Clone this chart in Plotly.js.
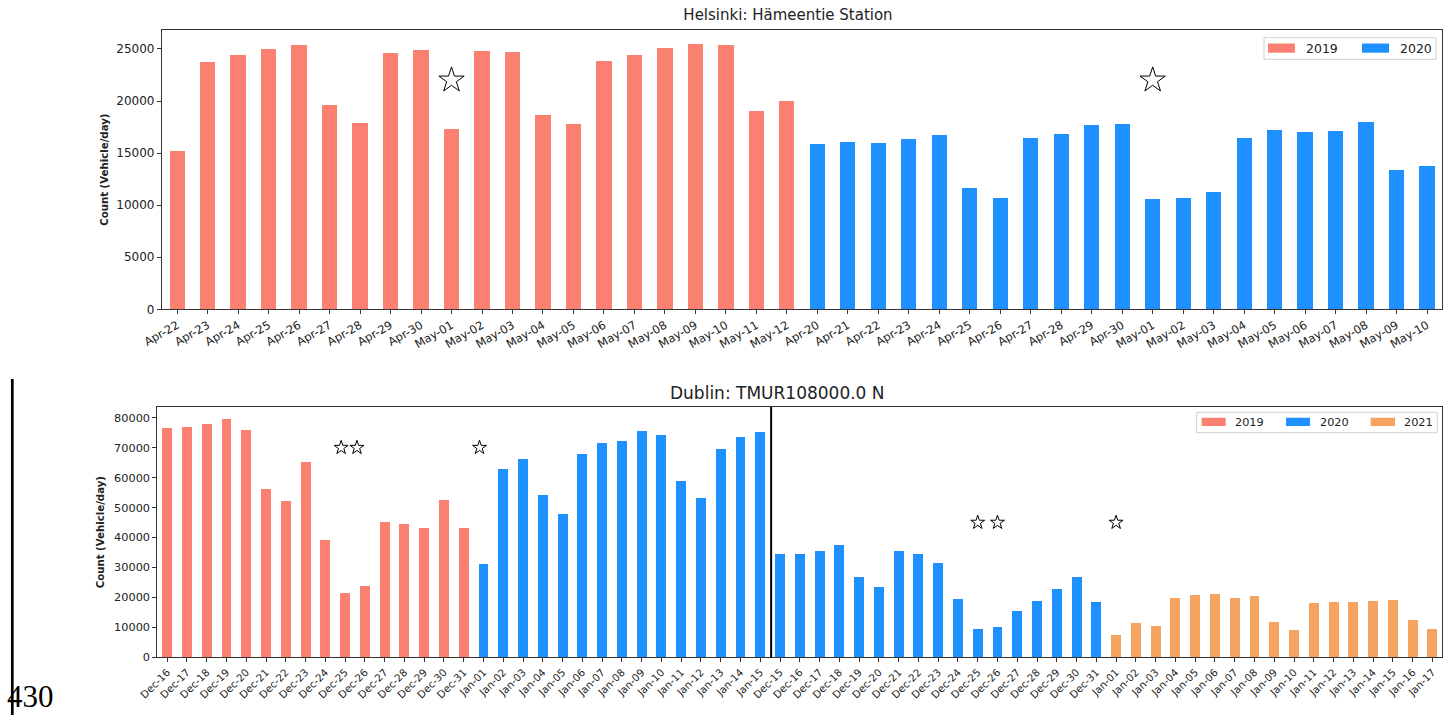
<!DOCTYPE html>
<html>
<head>
<meta charset="utf-8">
<script src="https://cdn.plot.ly/plotly-3.0.1.min.js"></script>
<style>html,body{margin:0;padding:0;background:#fff;}#chart{width:1450px;height:715px;}</style>
</head>
<body>
<div id="chart"></div>
<script>
// ---------- Helsinki data ----------
const helCats2019 = ['Apr-22','Apr-23','Apr-24','Apr-25','Apr-26','Apr-27','Apr-28','Apr-29','Apr-30','May-01','May-02','May-03','May-04','May-05','May-06','May-07','May-08','May-09','May-10','May-11','May-12'];
const helVals2019 = [15170,23750,24420,25030,25380,19590,17930,24580,24870,17320,24810,24710,18630,17800,23850,24390,25060,25450,25380,19050,19970];
const helCats2020 = ['Apr-20','Apr-21','Apr-22','Apr-23','Apr-24','Apr-25','Apr-26','Apr-27','Apr-28','Apr-29','Apr-30','May-01','May-02','May-03','May-04','May-05','May-06','May-07','May-08','May-09','May-10'];
const helVals2020 = [15910,16040,15950,16390,16740,11650,10720,16450,16810,17670,17830,10560,10720,11240,16450,17220,17060,17160,18020,13380,13730];
const helStarX = [9, 32];
const helStarY = [22000, 22000];

// ---------- Dublin data ----------
const dubCats2019 = ['Dec-16','Dec-17','Dec-18','Dec-19','Dec-20','Dec-21','Dec-22','Dec-23','Dec-24','Dec-25','Dec-26','Dec-27','Dec-28','Dec-29','Dec-30','Dec-31'];
const dubVals2019 = [76550,76880,77770,79550,75880,56080,52070,65200,39050,21470,23810,45170,44390,43170,52410,43060];
const dubCats2020 = ['Jan-01','Jan-02','Jan-03','Jan-04','Jan-05','Jan-06','Jan-07','Jan-08','Jan-09','Jan-10','Jan-11','Jan-12','Jan-13','Jan-14','Jan-15','Dec-15','Dec-16','Dec-17','Dec-18','Dec-19','Dec-20','Dec-21','Dec-22','Dec-23','Dec-24','Dec-25','Dec-26','Dec-27','Dec-28','Dec-29','Dec-30','Dec-31'];
const dubVals2020 = [31270,62750,66090,54300,47960,67870,71430,72100,75660,74210,58970,53300,69430,73440,75330,34490,34380,35380,37500,26820,23480,35380,34490,31490,19580,9570,10130,15470,18800,22700,26820,18580];
const dubCats2021 = ['Jan-01','Jan-02','Jan-03','Jan-04','Jan-05','Jan-06','Jan-07','Jan-08','Jan-09','Jan-10','Jan-11','Jan-12','Jan-13','Jan-14','Jan-15','Jan-16','Jan-17'];
const dubVals2021 = [7450,11350,10350,19690,20700,21140,19690,20470,11790,9120,18140,18470,18470,18800,19030,12460,9570];
const dubStarX = [8.8, 9.6, 15.8, 41, 42, 48];
const dubStarY = [70000, 70000, 70000, 45000, 45000, 45000];
const dubSplit = 30.55;

const seriesNames = ['2019', '2020', '2021'];
const seriesColors = ['#FA8072', '#1E90FF', '#F4A460'];

// ---------- helpers ----------
const W = 1450, H = 715;
const px = x => x / W;
const py = y => 1 - y / H;
const idx = (n, off) => Array.from({length: n}, (_, i) => i + off);

const FONT = 'DejaVu Sans, sans-serif';

const helX19 = idx(helCats2019.length, 0);
const helX20 = idx(helCats2020.length, helCats2019.length);
const helTicks = helCats2019.concat(helCats2020);

const dubX19 = idx(dubCats2019.length, 0);
const dubX20 = idx(dubCats2020.length, dubCats2019.length);
const dubX21 = idx(dubCats2021.length, dubCats2019.length + dubCats2020.length);
const dubTicks = dubCats2019.concat(dubCats2020, dubCats2021);

function bar(x, y, ci, xa, ya) {
  return {type: 'bar', x: x, y: y, name: seriesNames[ci], xaxis: xa, yaxis: ya, width: 0.5,
    marker: {color: seriesColors[ci], line: {width: 0}}, showlegend: false, hoverinfo: 'x+y'};
}

const data = [
  bar(helX19, helVals2019, 0, 'x', 'y'),
  bar(helX20, helVals2020, 1, 'x', 'y'),
  {type: 'scatter', mode: 'markers', x: helStarX, y: helStarY, xaxis: 'x', yaxis: 'y', showlegend: false,
   marker: {symbol: 'star-open', size: 19, color: '#000', line: {width: 1, color: '#000'}}},
  bar(dubX19, dubVals2019, 0, 'x2', 'y2'),
  bar(dubX20, dubVals2020, 1, 'x2', 'y2'),
  bar(dubX21, dubVals2021, 2, 'x2', 'y2'),
  {type: 'scatter', mode: 'markers', x: dubStarX, y: dubStarY, xaxis: 'x2', yaxis: 'y2', showlegend: false,
   marker: {symbol: 'star-open', size: 10.5, color: '#000', line: {width: 1, color: '#000'}}}
];

const axisCommon = {showline: true, mirror: true, linecolor: '#333', linewidth: 1, showgrid: false, zeroline: false,
  ticks: 'outside', ticklen: 4, tickcolor: '#333', automargin: false};

const layout = {
  width: W, height: H,
  margin: {l: 0, r: 0, t: 0, b: 0},
  paper_bgcolor: '#fff', plot_bgcolor: '#fff',
  font: {family: FONT, color: '#222'},
  bargap: 0,
  title: {text: 'Helsinki: Hämeentie Station', x: px(788), xanchor: 'center', xref: 'paper',
          y: py(15), yanchor: 'middle', yref: 'paper', font: {family: FONT, size: 15, color: '#222'}},
  xaxis: Object.assign({}, axisCommon, {domain: [px(161.9), px(1442.3)], anchor: 'y', range: [-0.5, helTicks.length - 0.5],
    tickmode: 'array', tickvals: idx(helTicks.length, 0), ticktext: helTicks, tickangle: -30,
    tickfont: {family: FONT, size: 11.5, color: '#222'}}),
  yaxis: Object.assign({}, axisCommon, {domain: [py(309.3), py(30)], anchor: 'x', range: [0, 26820],
    tickmode: 'array', tickvals: [0, 5000, 10000, 15000, 20000, 25000], ticktext: ['0','5000','10000','15000','20000','25000'],
    tickfont: {family: FONT, size: 12, color: '#222'},
    title: {text: '<b>Count (Vehicle/day)</b>', standoff: 5, font: {family: FONT, size: 10.2, color: '#222'}}}),
  xaxis2: Object.assign({}, axisCommon, {domain: [px(157.3), px(1442.3)], anchor: 'y2', range: [-0.5, dubTicks.length - 0.5],
    tickmode: 'array', tickvals: idx(dubTicks.length, 0), ticktext: dubTicks, tickangle: -45,
    tickfont: {family: FONT, size: 10.3, color: '#222'}}),
  yaxis2: Object.assign({}, axisCommon, {domain: [py(657.3), py(407)], anchor: 'x2', range: [0, 83570],
    tickmode: 'array', tickvals: [0,10000,20000,30000,40000,50000,60000,70000,80000],
    ticktext: ['0','10000','20000','30000','40000','50000','60000','70000','80000'],
    tickfont: {family: FONT, size: 11.3, color: '#222'},
    title: {text: '<b>Count (Vehicle/day)</b>', standoff: 7, font: {family: FONT, size: 10.2, color: '#222'}}}),
  shapes: [
    {type: 'line', xref: 'x2', yref: 'y2 domain', x0: dubSplit, x1: dubSplit, y0: 0, y1: 1, line: {color: '#000', width: 2}},
    {type: 'line', xref: 'paper', yref: 'paper', x0: px(12.3), x1: px(12.3), y0: py(379), y1: 0, line: {color: '#000', width: 2.7}}
  ],
  annotations: [
    {text: 'Dublin: TMUR108000.0 N', xref: 'paper', yref: 'paper', x: px(777.5), y: py(393), xanchor: 'center', yanchor: 'middle',
     showarrow: false, font: {family: FONT, size: 17, color: '#222'}},
    {text: '430', xref: 'paper', yref: 'paper', x: px(6), y: 0, xanchor: 'left', yanchor: 'bottom', borderpad: 0,
     showarrow: false, font: {family: 'Liberation Serif, Times New Roman, serif', size: 31, color: '#000'}}
  ]
};

// ---------- custom legends (matplotlib-like) ----------
function addLegend(box, items) {
  layout.shapes.push({type: 'rect', xref: 'paper', yref: 'paper', x0: px(box[0]), x1: px(box[1]), y0: py(box[3]), y1: py(box[2]),
    line: {color: '#d0d0d0', width: 1}, fillcolor: 'rgba(255,255,255,0.85)'});
  items.forEach(it => {
    layout.shapes.push({type: 'rect', xref: 'paper', yref: 'paper', x0: px(it.sx0), x1: px(it.sx1), y0: py(it.sy1), y1: py(it.sy0),
      line: {width: 0}, fillcolor: seriesColors[it.ci]});
    layout.annotations.push({text: seriesNames[it.ci], xref: 'paper', yref: 'paper', x: px(it.tx), y: py(it.ty),
      xanchor: 'left', yanchor: 'middle', showarrow: false, font: {family: FONT, size: it.fs, color: '#222'}});
  });
}
addLegend([1264, 1436, 37.7, 59.3], [
  {ci: 0, sx0: 1268, sx1: 1295, sy0: 43.5, sy1: 52.7, tx: 1304, ty: 48.5, fs: 12.5},
  {ci: 1, sx0: 1362, sx1: 1389, sy0: 43.5, sy1: 52.7, tx: 1398, ty: 48.5, fs: 12.5}
]);
addLegend([1196.7, 1437.3, 412.3, 432.7], [
  {ci: 0, sx0: 1201.7, sx1: 1225.7, sy0: 417.7, sy1: 426, tx: 1233, ty: 422, fs: 11.3},
  {ci: 1, sx0: 1286, sx1: 1310, sy0: 417.7, sy1: 426, tx: 1318, ty: 422, fs: 11.3},
  {ci: 2, sx0: 1370.7, sx1: 1395, sy0: 417.7, sy1: 426, tx: 1402, ty: 422, fs: 11.3}
]);

Plotly.newPlot('chart', data, layout, {displayModeBar: false, staticPlot: true});
</script>
</body>
</html>
